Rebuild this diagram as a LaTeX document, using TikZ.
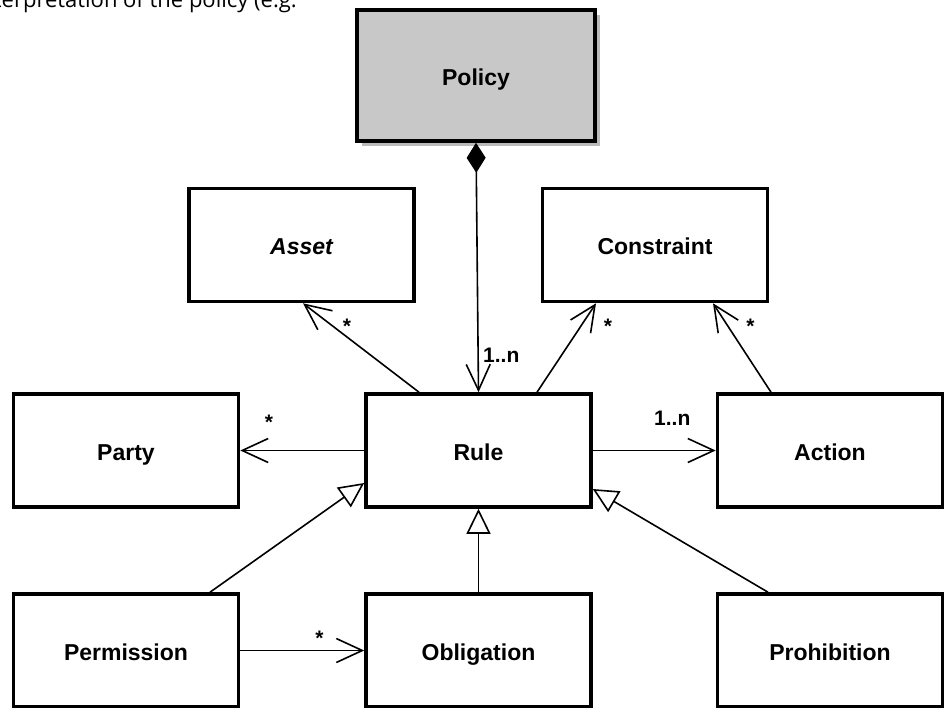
\documentclass[tikz,border=0pt]{standalone}
\usepackage{fontspec}
\setmainfont{Liberation Sans}
\newfontfamily\docfont{Open Sans}
\usetikzlibrary{arrows.meta,shadows}
\definecolor{policygray}{RGB}{200,200,200}

\begin{document}
\begin{tikzpicture}[x=1pt,y=-1pt]
    % 定义样式
    \tikzstyle{classbox}=[draw, line width=3.6pt, fill=white, minimum width=225pt, minimum height=113pt, inner sep=0pt, text height=19.4pt, text depth=0pt, font=\fontsize{23}{27}\selectfont\bfseries]
    \tikzstyle{assoc}=[line width=1.6pt, -{Straight Barb[length=26pt,width=24pt]}]
    \tikzstyle{inherit}=[line width=1.6pt, -{Triangle[open,length=25pt,width=24pt]}]
    \tikzstyle{mult}=[inner sep=0pt, font=\fontsize{21}{25}\selectfont\bfseries]

    \useasboundingbox (0,0) rectangle (949,707);

    % 上方正文的残留 (被截掉一半)
    \node[anchor=base east, inner sep=0pt, font=\docfont\fontsize{22}{26}\selectfont] (doctext) at (297,7.5) {terpretation of the policy (e.g.};

    % 顶层: Policy
    \node[classbox, fill=policygray, minimum width=238pt, minimum height=131pt,
          drop shadow={shadow xshift=5pt, shadow yshift=-5pt, fill=black!45, opacity=0.6}] (policy) at (476,75.5) {Policy};

    % 第二层
    \node[classbox] (asset) at (301.5,245) {\itshape Asset};
    \node[classbox] (constraint) at (655,245) {Constraint};

    % 中间层
    \node[classbox] (party) at (126,450.5) {Party};
    \node[classbox] (rule) at (478.5,450.5) {Rule};
    \node[classbox] (action) at (830,450.5) {Action};

    % 底层 (被图片下边缘截断)
    \node[classbox] (permission) at (126,650.5) {Permission};
    \node[classbox] (obligation) at (478.5,650.5) {Obligation};
    \node[classbox] (prohibition) at (830,650.5) {Prohibition};

    % 组合 Policy -> Rule
    \draw[line width=1.6pt, {Diamond[length=30pt,width=19pt]}-{Straight Barb[length=26pt,width=24pt]}] (policy.south) -- (rule.north);
    \node[mult, anchor=base west] (m-policy) at (483,362) {1..n};

    % 关联
    \draw[assoc] ([xshift=-59.5pt]rule.north) -- ([xshift=1.5pt]asset.south);
    \node[mult, anchor=base] (m-asset) at (347,333.5) {*};
    \draw[assoc] ([xshift=58.5pt]rule.north) -- ([xshift=-59pt]constraint.south);
    \node[mult, anchor=base] (m-constraint) at (608,333.5) {*};
    \draw[assoc] ([xshift=-59pt]action.north) -- ([xshift=58pt]constraint.south);
    \node[mult, anchor=base] (m-action-c) at (750.5,333.5) {*};
    \draw[assoc] (rule.west) -- (party.east);
    \node[mult, anchor=base] (m-party) at (269,429) {*};
    \draw[assoc] (rule.east) -- (action.west);
    \node[mult, anchor=base west] (m-action) at (654,425) {1..n};
    \draw[assoc] (permission.east) -- (obligation.west);
    \node[mult, anchor=base] (m-obligation) at (319.5,645.5) {*};

    % 继承 (空心三角)
    \draw[inherit] ([xshift=84pt]permission.north) -- ([yshift=-32.5pt]rule.west);
    \draw[inherit] (obligation.north) -- (rule.south);
    \draw[inherit] ([xshift=-62pt]prohibition.north) -- ([yshift=-38.5pt]rule.east);
\end{tikzpicture}
\end{document}
